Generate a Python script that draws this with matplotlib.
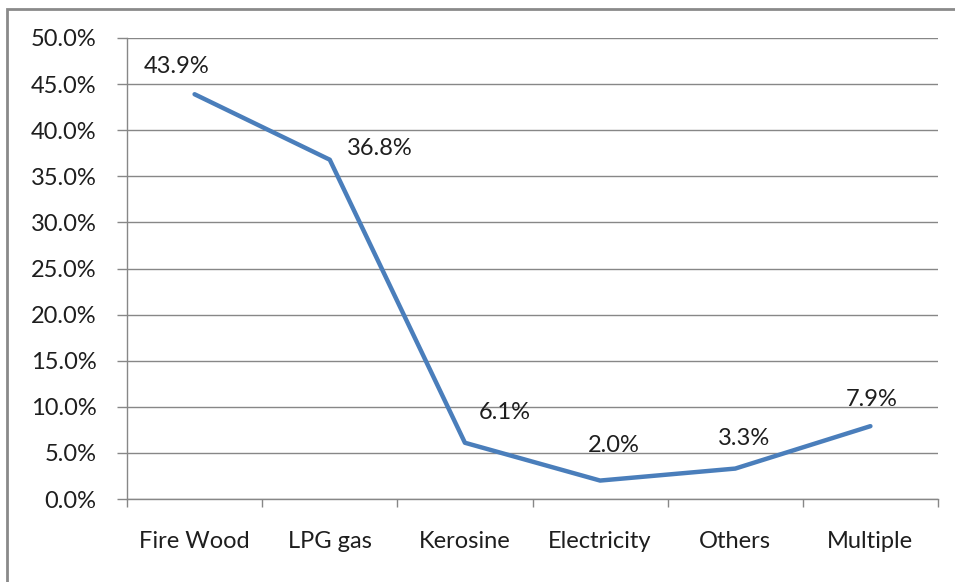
import matplotlib.pyplot as plt
from matplotlib.patches import Rectangle
from matplotlib.ticker import FuncFormatter, MultipleLocator

# Cooking fuel used by households
fuels = ["Fire Wood", "LPG gas", "Kerosine", "Electricity", "Others", "Multiple"]
share = [43.9, 36.8, 6.1, 2.0, 3.3, 7.9]
# label offsets (pixels, right/up) from each point
label_dx = [-18, 50, 40, 14, 9, 1]
label_dy = [28, 11, 30, 35, 30, 27]

plt.rcParams['font.family'] = ['Lato', 'DejaVu Sans']
text_col = '#1e1e1e'
grid_col = '#878787'
fs = 17

fig = plt.figure(figsize=(9.55, 5.82), dpi=100)
ax = fig.add_axes([127 / 955, 83 / 582, 811 / 955, 461 / 582])

x = list(range(len(fuels)))
ax.plot(x, share, color='#4A7EBB', lw=3.2, solid_capstyle='round', solid_joinstyle='round', zorder=3)

for xi, v, dx, dy in zip(x, share, label_dx, label_dy):
    ax.annotate(f"{v:.1f}%", (xi, v), xytext=(dx * 0.72, dy * 0.72), textcoords='offset points',
                ha='center', va='center', fontsize=fs, color=text_col, zorder=4)

ax.set_xlim(-0.5, len(fuels) - 0.5)
ax.set_ylim(0, 50)
ax.yaxis.set_major_locator(MultipleLocator(5))
ax.yaxis.set_major_formatter(FuncFormatter(lambda v, p: f"{v:.1f}%"))
ax.grid(axis='y', color=grid_col, lw=1.0)
ax.set_axisbelow(True)

# category ticks sit on the boundaries, labels in the middle
ax.set_xticks([i - 0.5 for i in range(len(fuels) + 1)])
ax.set_xticklabels([])
ax.set_xticks(x, minor=True)
ax.set_xticklabels(fuels, minor=True)
ax.tick_params(axis='x', which='major', length=6, width=1, color=grid_col, direction='out')
ax.tick_params(axis='x', which='minor', length=0, pad=23, labelsize=fs, labelcolor=text_col)
ax.tick_params(axis='y', length=7, width=1, color=grid_col, pad=15, labelsize=fs, labelcolor=text_col)

for side in ['top', 'right']:
    ax.spines[side].set_visible(False)
for side in ['left', 'bottom']:
    ax.spines[side].set_color(grid_col)
    ax.spines[side].set_linewidth(1.0)

# chart area frame
fig.add_artist(Rectangle((7 / 955, -0.1), 1.2, 1.1 - 9 / 582, transform=fig.transFigure,
                         fill=False, edgecolor='#8a8a8a', lw=2))

fig.savefig('out.png', dpi=100)
